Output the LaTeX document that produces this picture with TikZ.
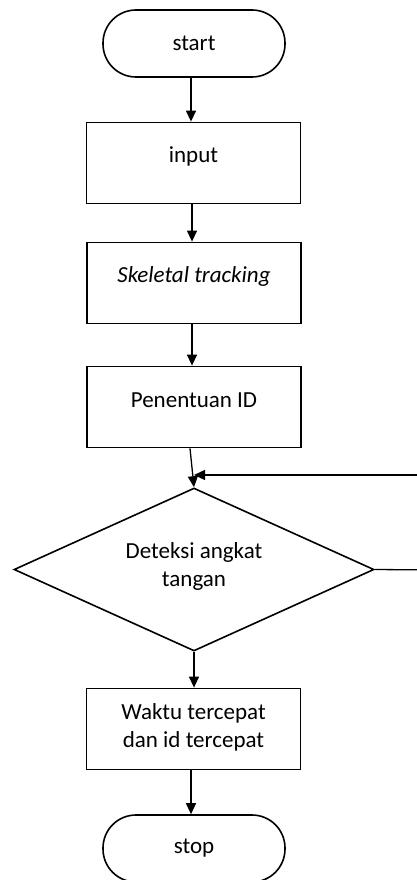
\documentclass[tikz,border=0pt]{standalone}
\usepackage{fontspec}
\setmainfont{Carlito}
\usetikzlibrary{arrows.meta,shapes.geometric}
\begin{document}
\begin{tikzpicture}[x=1pt,y=-1pt,
  every node/.style={font=\fontsize{23}{28}\selectfont, align=center},
  term/.style={draw, line width=1.6pt, rounded corners=33pt, minimum width=182pt, minimum height=67pt, inner sep=0pt},
  procbox/.style={draw, line width=1.8pt, minimum width=214pt, minimum height=81pt, inner sep=0pt},
  decis/.style={draw, line width=1.6pt, diamond, aspect=2.2, minimum width=360pt, minimum height=163pt, inner sep=0pt},
  flow/.style={line width=1.3pt, -{Triangle[length=11pt,width=10pt]}}]
\useasboundingbox (0,0) rectangle (416,880);
\node[term] (start) at (194,43.5) {start};
\node[procbox] (input) at (193.5,163) {};
\node (inputtxt) at (193.5,156) {input};
\node[procbox] (skel) at (194,283) {};
\node (skeltxt) at (194,276) {\itshape Skeletal tracking};
\node[procbox] (pid) at (194,407) {};
\node (pidtxt) at (194,400) {Penentuan ID};
\node[decis] (dec) at (194,569.5) {};
\node (dectxt) at (194,566) {Deteksi angkat\\tangan};
\node[procbox] (wak) at (193.5,729) {};
\node (waktxt) at (193.5,727) {Waktu tercepat\\dan id tercepat};
\node[term] (stop) at (194,848.5) {stop};
\coordinate (lp1) at (440,570);
\coordinate (lp2) at (440,475);
\coordinate (lp3) at (194,475);
\draw[flow] (start.south -| 191,0) -- (input.north -| 191,0);
\draw[flow] (input.south -| 192,0) -- (skel.north -| 192,0);
\draw[flow] (skel.south -| 192,0) -- (pid.north -| 192,0);
\draw[flow] (pid.south -| 190,0) -- (dec.north);
\draw[line width=1.3pt] (dec.east) -- (lp1) -- (lp2);
\draw[flow] (lp2) -- (lp3);
\draw[flow] (dec.south) -- (wak.north -| dec.south);
\draw[flow] (wak.south -| 191,0) -- (stop.north -| 191,0);
\end{tikzpicture}
\end{document}
